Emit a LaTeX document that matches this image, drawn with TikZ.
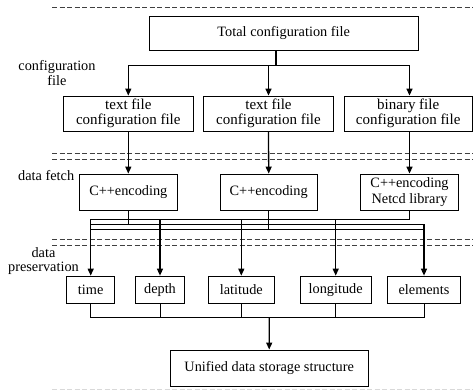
\documentclass[tikz,border=0pt]{standalone}
\usepackage{fontspec}
\setmainfont{Liberation Serif}
\usetikzlibrary{arrows.meta}
\begin{document}
\begin{tikzpicture}[x=1pt,y=-1pt,
  font=\fontsize{14.3pt}{14.5pt}\selectfont,
  box/.style={draw, line width=0.8pt, inner sep=0pt, align=center},
  fbox/.style={box, font=\fontsize{15pt}{14.8pt}\selectfont},
  lbl/.style={inner sep=0pt, align=center},
  sep/.style={draw=black!75, line width=0.8pt, dash pattern=on 5pt off 2.5pt},
  ln/.style={line width=0.8pt},
  stem/.style={line width=1.3pt},
  arr/.style={line width=1.3pt, -{Triangle[length=7pt,width=6pt]}}]
\useasboundingbox (0,0) rectangle (473,390);
% separators
\draw[sep] (52,7) -- (473,7);
\draw[sep] (52,153.3) -- (473,153.3);
\draw[sep] (52,159.3) -- (473,159.3);
\draw[sep] (52,239) -- (473,239);
\draw[sep] (52,245) -- (473,245);
\draw[draw=black!15, line width=0.8pt, dash pattern=on 5pt off 2.5pt] (52,389.3) -- (473,389.3);
% labels
\node[lbl] (l1) at (57,73) {configuration\\file};
\node[lbl, anchor=west] (l2) at (18,176) {data fetch};
\node[lbl] (l3) at (43.5,261.3) {data\\preservation};
% boxes
\node[box, minimum width=269.3pt, minimum height=33.3pt] (total) at (283.7,33.3) {Total configuration file};
\node[fbox, minimum width=130pt, minimum height=35pt] (f1) at (128.3,113.5) {text file\\configuration file};
\node[fbox, minimum width=129.6pt, minimum height=35pt] (f2) at (268.5,113.5) {text file\\configuration file};
\node[fbox, minimum width=127.4pt, minimum height=35pt] (f3) at (408.2,113.5) {binary file\\configuration file};
\node[box, minimum width=98pt, minimum height=36pt] (e1) at (128.3,192) {C++encoding};
\node[box, minimum width=97.3pt, minimum height=36pt] (e2) at (268.7,192) {C++encoding};
\node[box, minimum width=97.6pt, minimum height=36pt, font=\fontsize{14.3pt}{16.7pt}\selectfont] (e3) at (409.5,192) {C++encoding\\Netcd library};
\node[box, minimum width=48.3pt, minimum height=27.3pt] (b1) at (90.7,289.7) {time};
\node[box, minimum width=48.3pt, minimum height=27.3pt] (b2) at (160,289.7) {depth};
\node[box, minimum width=65.7pt, minimum height=27.3pt] (b3) at (241.3,289.7) {latitude};
\node[box, minimum width=71pt, minimum height=27.3pt] (b4) at (335.7,289.7) {longitude};
\node[box, minimum width=72.4pt, minimum height=27.3pt] (b5) at (424,289.7) {elements};
\node[box, minimum width=198.3pt, minimum height=36.7pt] (u) at (269.2,368.3) {Unified data storage structure};
% top distribution
\coordinate (tj) at (276,65.7);
\draw[stem] (tj |- total.south) -- (tj);
\draw[ln] (f1.north |- tj) -- (e3.north |- tj);
\draw[arr] (f1.north |- tj) -- (f1.north);
\draw[arr] (f2.north |- tj) -- (f2.north);
\draw[arr] (e3.north |- tj) -- (e3.north |- f3.north);
% file -> encoding
\draw[arr] (f1.south) -- (e1.north);
\draw[arr] (f2.south) -- (e2.north);
\draw[arr] (e3.north |- f3.south) -- (e3.north);
% buses
\coordinate (busA) at (0,219.3);
\coordinate (busB) at (0,224.3);
\coordinate (busC) at (0,229);
\draw[stem] (e3.south) -- (e3.south |- busA);
\draw[stem] (e1.south) -- (e1.south |- busB);
\draw[stem] (e2.south) -- (e2.south |- busC);
\draw[ln] (b1.north |- busA) -- (e3.south |- busA);
\draw[ln] (b1.north |- busB) -- (b5.north |- busB);
\draw[ln] (b1.north |- busC) -- (b5.north |- busC);
\draw[arr] (b1.north |- busA) -- (b1.north);
\draw[arr] (b2.north |- busA) -- (b2.north);
\draw[arr] (b3.north |- busA) -- (b3.north);
\draw[arr] (b4.north |- busA) -- (b4.north);
\draw[arr] (b5.north |- busB) -- (b5.north);
% bottom merge
\coordinate (bj) at (269.3,317.7);
\foreach \b in {b1,b2,b3,b4,b5} \draw[ln] (\b.south) -- (\b.south |- bj);
\draw[ln] (b1.south |- bj) -- (b5.south |- bj);
\draw[arr] (bj) -- (u.north);
\end{tikzpicture}
\end{document}
